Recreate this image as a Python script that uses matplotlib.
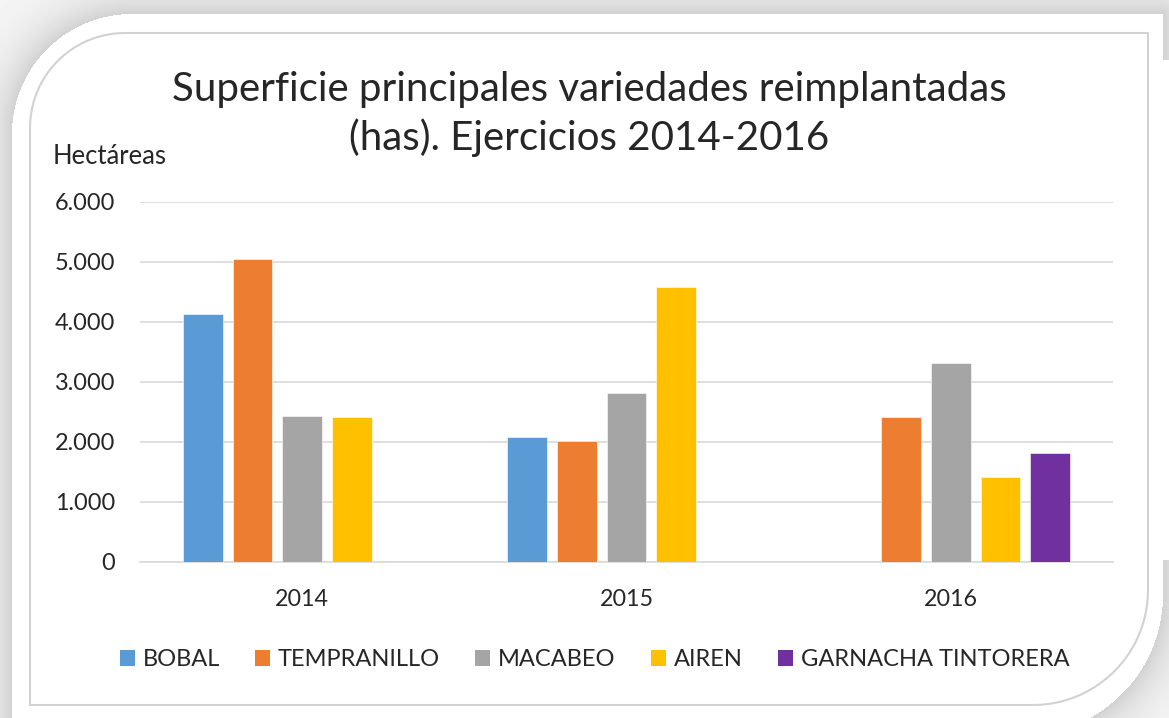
import numpy as np
import matplotlib
matplotlib.use('Agg')
import matplotlib.pyplot as plt
from matplotlib.patches import Patch, PathPatch
from matplotlib.path import Path

# ---------------- data ----------------
years = ['2014', '2015', '2016']
varieties = ['BOBAL', 'TEMPRANILLO', 'MACABEO', 'AIREN', 'GARNACHA TINTORERA']
bobal = [4130, 2090, np.nan]
tempranillo = [5050, 2010, 2420]
macabeo = [2440, 2810, 3310]
airen = [2410, 4590, 1420]
garnacha = [np.nan, np.nan, 1820]
colors = ['#5B9BD5', '#ED7D31', '#A5A5A5', '#FFC000', '#7030A0']
yticks = [0, 1000, 2000, 3000, 4000, 5000, 6000]
ytick_labels = ['0', '1.000', '2.000', '3.000', '4.000', '5.000', '6.000']
title_lines = ['Superficie principales variedades reimplantadas', '(has). Ejercicios 2014-2016']
ylabel = 'Hectáreas'

FONT = 'Lato'
TXT = '#262626'
W, H = 1169, 718

fig = plt.figure(figsize=(W / 100, H / 100), dpi=100)
fig.patch.set_facecolor('white')
renderer = fig.canvas.get_renderer()


def fit_size(s, target_px, base=20):
    t = fig.text(0, 0, s, fontsize=base, family=FONT)
    w = t.get_window_extent(renderer).width
    t.remove()
    return base * target_px / w


# ---------------- background frame ----------------
bg = fig.add_axes([0, 0, 1, 1], zorder=0)
bg.set_xlim(0, W)
bg.set_ylim(H, 0)
bg.axis('off')

yy, xx = np.mgrid[0:H, 0:W] + 0.5
cx0, cy0, cx1, cy1, cr1, cr2 = 12, 14, 1163, 735, 120, 140


def sdist(x, y, x0, y0, x1, y1, r1, r2):
    dx = np.maximum(np.maximum(x0 - x, x - x1), 0)
    dy = np.maximum(np.maximum(y0 - y, y - y1), 0)
    d_rect = np.hypot(dx, dy)
    d_tl = np.hypot(x - (x0 + r1), y - (y0 + r1)) - r1
    d_br = np.hypot(x - (x1 - r2), y - (y1 - r2)) - r2
    m_tl = (x < x0 + r1) & (y < y0 + r1)
    m_br = (x > x1 - r2) & (y > y1 - r2)
    return np.where(m_tl, d_tl, np.where(m_br, d_br, d_rect))


d = sdist(xx, yy, cx0, cy0, cx1, cy1, cr1, cr2)
g = np.where(d <= 0, 1.0, 0.82 + 0.15 * (1 - np.exp(-d / 25)))
g = np.where((xx > cx1) & (yy > 60) & (yy < 560), 1.0, g)
bg.imshow(g, extent=(0, W, H, 0), cmap='gray', vmin=0, vmax=1,
          interpolation='bilinear', aspect='auto')


def rounded_path(x0, y0, x1, y1, r1, r2, n=40):
    pts = [(x0 + r1, y0), (x1, y0), (x1, y1 - r2)]
    t = np.linspace(0, np.pi / 2, n)
    pts += list(zip(x1 - r2 + r2 * np.cos(t), y1 - r2 + r2 * np.sin(t)))
    pts += [(x0, y1), (x0, y0 + r1)]
    t = np.linspace(np.pi, 1.5 * np.pi, n)
    pts += list(zip(x0 + r1 + r1 * np.cos(t), y0 + r1 + r1 * np.sin(t)))
    pts.append(pts[0])
    return Path(pts)


bg.add_patch(PathPatch(rounded_path(30, 33, 1148, 705, 95, 115),
                       facecolor='none', edgecolor='#d2d2d2', lw=1.5))

# ---------------- chart ----------------
L, R, T, B = 140, 1113, 202, 562
ax = fig.add_axes([L / W, 1 - B / H, (R - L) / W, (B - T) / H], zorder=2)
ax.set_facecolor('none')

series = [bobal, tempranillo, macabeo, airen, garnacha]
xc = np.arange(len(years))
step, bw = 0.153, 0.122
for i, (vals, col) in enumerate(zip(series, colors)):
    v = np.array(vals, dtype=float)
    keep = ~np.isnan(v)
    ax.bar(xc[keep] + (i - 2) * step, v[keep], width=bw, color=col, zorder=3,
           edgecolor='white', linewidth=0.4)

ax.set_xlim(-0.5, 2.5)
ax.set_ylim(0, 6000)
ax.set_yticks(yticks)
ax.set_xticks(xc)
ax.yaxis.grid(True, color='#d9d9d9', lw=1.2)
ax.set_axisbelow(True)
for s in ['top', 'right', 'left']:
    ax.spines[s].set_visible(False)
ax.spines['bottom'].set_color('#d9d9d9')
ax.spines['bottom'].set_linewidth(1.2)
ax.tick_params(length=0)

fs_tick = fit_size('6.000', 60)
fs_x = fit_size('2014', 54)
ax.set_yticklabels(ytick_labels, fontsize=fs_tick, color=TXT, family=FONT)
ax.set_xticklabels(years, fontsize=fs_x, color=TXT, family=FONT)
ax.tick_params(axis='y', pad=25 * 0.72)
ax.tick_params(axis='x', pad=27 * 0.72)

# title
fs_title = fit_size(title_lines[0], 838)
fig.text(589 / W, 1 - 90 / H, title_lines[0], fontsize=fs_title, family=FONT,
         color=TXT, ha='center', va='center')
fig.text(589 / W, 1 - 138 / H, title_lines[1], fontsize=fs_title, family=FONT,
         color=TXT, ha='center', va='center')

# y label
fs_yl = fit_size(ylabel, 114)
fig.text(53 / W, 1 - 157 / H, ylabel, fontsize=fs_yl, family=FONT, color=TXT,
         ha='left', va='center')

# legend
fs_leg = fit_size('TEMPRANILLO', 162)
fpx = fs_leg * 100 / 72
handles = [Patch(facecolor=c, edgecolor='none') for c in colors]
fig.legend(handles, varieties, loc='center', bbox_to_anchor=(594.5 / W, 1 - 660 / H),
           ncol=5, frameon=False, prop={'family': FONT, 'size': fs_leg},
           labelcolor=TXT, handlelength=15 / fpx, handleheight=15 / fpx,
           handletextpad=8 / fpx, columnspacing=35 / fpx, borderpad=0,
           borderaxespad=0)

fig.savefig('out.png', dpi=100, facecolor='white')
